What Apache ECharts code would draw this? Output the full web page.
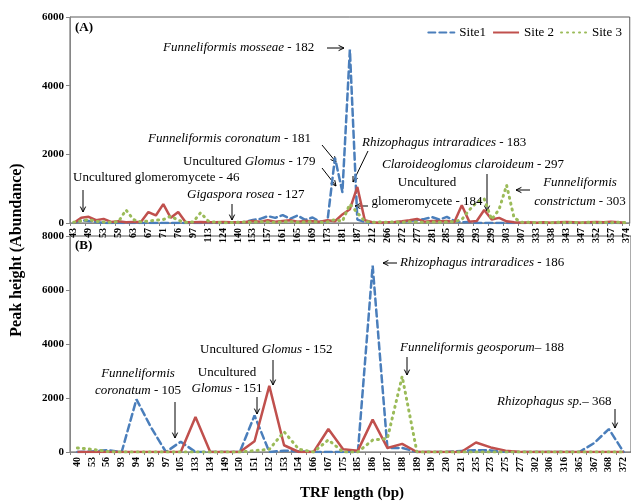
<!DOCTYPE html>
<html>
<head>
<meta charset="utf-8">
<script src="https://cdn.jsdelivr.net/npm/echarts@6/dist/echarts.min.js"></script>
<style>
html, body { margin: 0; padding: 0; background: #fff; }
#main { width: 631px; height: 502px; }
</style>
</head>
<body>
<div id="main"></div>
<script>
// TRF peak heights, panel (A) and (B)
var catsA = [43,46,49,51,53,56,59,61,63,65,67,69,71,73,76,80,97,105,113,120,124,127,140,150,153,155,157,159,161,163,
  165,167,169,171,173,179,181,182,187,190,212,230,266,270,272,275,277,279,281,283,285,287,289,291,293,297,299,301,303,305,
  307,320,333,335,338,340,343,345,347,350,352,355,357,365,374];
var site1A = [0,80,60,30,0,0,0,0,0,0,
  0,0,0,0,0,0,0,0,0,0,
  0,20,0,30,90,120,200,150,230,120,
  220,90,160,40,60,1900,900,5050,100,30,
  0,0,0,20,30,60,80,120,170,100,
  180,60,20,30,0,0,0,0,0,0,
  0,0,0,0,0,0,0,0,0,0,
  0,0,0,0,0];
var site2A = [0,150,180,80,120,30,50,20,30,30,
  320,220,550,150,320,20,20,30,20,20,
  30,20,20,30,60,40,80,40,60,80,
  40,60,50,40,80,50,250,400,1050,80,
  20,10,20,30,50,80,120,40,60,50,
  60,30,520,40,60,380,100,150,50,20,
  10,20,10,20,10,20,30,20,10,20,
  30,20,40,20,0];
var site3A = [20,60,100,50,30,20,40,380,100,30,
  60,80,100,200,80,20,30,300,60,20,
  10,10,20,30,20,40,30,20,30,40,
  20,30,40,20,30,100,50,550,300,50,
  20,30,20,30,20,40,30,20,30,20,
  30,40,100,380,600,700,100,400,1100,150,
  20,20,10,20,10,20,10,20,10,20,
  10,20,10,20,10];

var catsB = [40,53,56,93,94,95,97,105,133,134,149,150,151,152,153,154,166,167,175,185,
  186,187,188,189,190,230,231,235,273,275,277,302,306,316,365,367,368,372];
var site1B = [0,20,70,0,1950,900,0,380,0,0,
  0,0,1350,0,50,30,0,0,0,0,
  6900,150,150,0,0,0,40,70,60,0,
  0,0,0,0,0,330,850,0];
var site2B = [0,0,0,0,0,0,0,0,1300,0,
  0,0,400,2450,250,0,0,850,100,50,
  1200,150,300,0,0,0,0,350,170,50,
  0,0,0,0,0,0,0,0];
var site3B = [150,100,20,0,0,0,0,0,0,0,
  0,0,50,100,750,100,0,450,0,0,
  440,500,2800,0,0,0,0,0,0,0,
  0,0,0,0,0,0,0,0];

var dom = document.getElementById("main");
var myChart = echarts.init(dom, null, {renderer: 'canvas'});

var serif = '"Liberation Serif", "Times New Roman", serif';
var c1 = '#4a7ebb', c2 = '#c0504d', c3 = '#9bbb59';

function xAx(idx, data, interval) {
    return {
        type: 'category', gridIndex: idx, data: data, boundaryGap: true,
        axisLine: {lineStyle: {color: '#868686'}},
        axisTick: {show: true, interval: interval, length: 3, lineStyle: {color: '#868686'}},
        axisLabel: {interval: interval, rotate: 90, color: '#000', fontFamily: serif,
            fontSize: 10, fontWeight: 'bold', margin: 5}
    };
}
function yAx(idx, max) {
    return {
        type: 'value', gridIndex: idx, min: 0, max: max, interval: 2000,
        splitLine: {show: false},
        axisLine: {show: true, lineStyle: {color: '#868686'}},
        axisTick: {show: true, length: 4, lineStyle: {color: '#868686'}},
        axisLabel: {color: '#000', fontFamily: serif, fontSize: 11, fontWeight: 'bold', margin: 6,
            formatter: function (v) { return String(v); }}
    };
}
function ser(name, idx, data, color, type, width) {
    return {
        name: name, type: 'line', xAxisIndex: idx, yAxisIndex: idx, data: data,
        symbol: 'none', color: color, animation: false,
        lineStyle: {color: color, width: width, type: type, cap: type === 'solid' ? 'butt' : 'round'}
    };
}

// annotation helpers
function txt(x, y, s, align, extra) {
    var st = {
        text: s, x: 0, y: 0, fill: '#000', textAlign: align || 'left', textVerticalAlign: 'middle',
        font: '13px ' + serif,
        rich: {i: {fontStyle: 'italic', fontFamily: serif, fontSize: 13, fill: '#000'}}
    };
    if (extra) for (var k in extra) st[k] = extra[k];
    return {type: 'text', x: x, y: y, style: st, z: 100};
}
function arrow(x1, y1, x2, y2) {
    var a = Math.atan2(y2 - y1, x2 - x1), h = 6, w = 0.45;
    return {
        type: 'group', z: 100, children: [
            {type: 'line', shape: {x1: x1, y1: y1, x2: x2, y2: y2}, style: {stroke: '#000', lineWidth: 1}},
            {type: 'polyline', shape: {points: [
                [x2 - h * Math.cos(a - w), y2 - h * Math.sin(a - w)], [x2, y2],
                [x2 - h * Math.cos(a + w), y2 - h * Math.sin(a + w)]]},
             style: {stroke: '#000', lineWidth: 1, fill: null}}
        ]
    };
}

var notes = [
    txt(75, 28, '(A)', 'left', {font: 'bold 13px ' + serif}),
    txt(163, 48, '{i|Funneliformis mosseae} - 182'), arrow(327, 48, 344, 48),
    txt(148, 139, '{i|Funneliformis coronatum} - 181'), arrow(322, 145, 336, 162),
    txt(183, 162, 'Uncultured {i|Glomus} - 179'), arrow(322, 168, 336, 186),
    txt(362, 143, '{i|Rhizophagus intraradices} - 183'), arrow(368, 151, 353, 182),
    txt(73, 178, 'Uncultured glomeromycete - 46'), arrow(83, 190, 83, 212),
    txt(187, 195, '{i|Gigaspora rosea} - 127'), arrow(232, 204, 232, 220),
    txt(382, 165, '{i|Claroideoglomus claroideum} - 297'), arrow(487, 174, 487, 211),
    txt(427, 183, 'Uncultured', 'center'), txt(427, 202, 'glomeromycete - 184', 'center'),
    arrow(368, 206, 355, 206),
    txt(580, 183, '{i|Funneliformis}', 'center'), txt(580, 202, '{i|constrictum} - 303', 'center'),
    arrow(530, 190, 516, 190),

    txt(75, 246, '(B)', 'left', {font: 'bold 13px ' + serif}),
    txt(400, 263, '{i|Rhizophagus intraradices} - 186'), arrow(397, 263, 383, 263),
    txt(200, 350, 'Uncultured {i|Glomus} - 152'), arrow(273, 360, 273, 385),
    txt(400, 348, '{i|Funneliformis geosporum}\u2013 188'), arrow(407, 357, 407, 375),
    txt(138, 374, '{i|Funneliformis}', 'center'), txt(138, 391, '{i|coronatum} - 105', 'center'),
    arrow(175, 402, 175, 438),
    txt(227, 373, 'Uncultured', 'center'), txt(227, 389, '{i|Glomus} - 151', 'center'),
    arrow(257, 397, 257, 414),
    txt(497, 402, '{i|Rhizophagus sp.}\u2013 368'), arrow(615, 409, 615, 428),

    {type: 'text', x: 17, y: 250, rotation: Math.PI / 2, z: 100,
     style: {text: 'Peak height (Abundance)', fill: '#000', textAlign: 'center', textVerticalAlign: 'middle',
             font: 'bold 16px ' + serif}},
    {type: 'text', x: 352, y: 493, z: 100,
     style: {text: 'TRF length (bp)', fill: '#000', textAlign: 'center', textVerticalAlign: 'middle',
             font: 'bold 15px ' + serif}}
];

var option = {
    backgroundColor: '#ffffff',
    animation: false,
    legend: {
        data: ['Site1', 'Site 2', 'Site 3'], right: 4, top: 21, itemWidth: 26, itemHeight: 10, itemGap: 6,
        itemStyle: {opacity: 0},
        textStyle: {fontFamily: serif, fontSize: 13, color: '#000'}
    },
    grid: [
        {left: 70, top: 17, width: 561, height: 206, show: true, borderColor: '#595959', borderWidth: 1},
        {left: 70, top: 236, width: 564, height: 216, show: true, borderColor: '#595959', borderWidth: 1}
    ],
    xAxis: [xAx(0, catsA, 1), xAx(1, catsB, 0)],
    yAxis: [yAx(0, 6000), yAx(1, 8000)],
    series: [
        ser('Site1', 0, site1A, c1, [7, 4], 2.5),
        ser('Site 2', 0, site2A, c2, 'solid', 2.5),
        ser('Site 3', 0, site3A, c3, [1, 5], 3),
        ser('Site1', 1, site1B, c1, [7, 4], 2.5),
        ser('Site 2', 1, site2B, c2, 'solid', 2.5),
        ser('Site 3', 1, site3B, c3, [1, 5], 3)
    ],
    graphic: notes
};
if (option && typeof option === "object") {
    myChart.setOption(option, true);
}
</script>
</body>
</html>
